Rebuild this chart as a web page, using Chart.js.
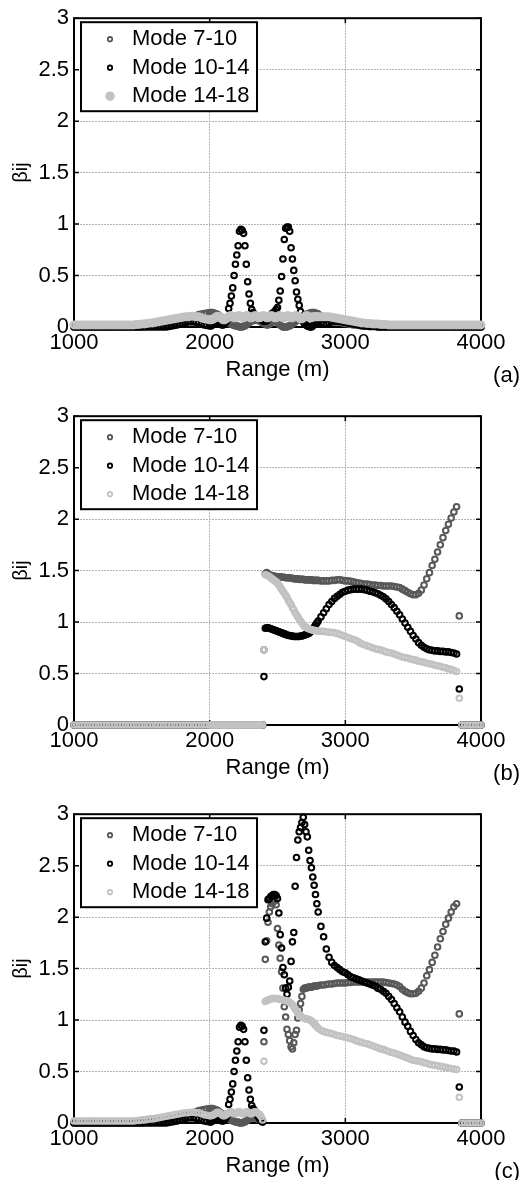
<!DOCTYPE html>
<html lang="en">
<head>
<meta charset="UTF-8">
<title>βij vs Range</title>
<script src="https://cdn.jsdelivr.net/npm/chart.js@4"></script>
<style>
    html, body {
        margin: 0;
        padding: 0;
        background: #fff;
        overflow: hidden;
    }
    .panel {
        position: relative;
        width: 527px;
        height: 398px;
    }
    .panel canvas {
        position: absolute;
        left: 0;
        top: 0;
    }
    .tag {
        position: absolute;
        right: 7px;
        top: 362px;
        font: 22px "Liberation Sans", Arial, sans-serif;
        color: #000;
    }
</style>
</head>
<body>
<div class="panel"><canvas id="chartA" width="527" height="398"></canvas><span class="tag">(a)</span></div>
<div class="panel"><canvas id="chartB" width="527" height="398"></canvas><span class="tag">(b)</span></div>
<div class="panel"><canvas id="chartC" width="527" height="398"></canvas><span class="tag">(c)</span></div>

<script>
// range grid (m): 20 m steps, 10 m steps between 2000 and 2800
const ranges = [
    1000, 1020, 1040, 1060, 1080, 1100, 1120, 1140, 1160, 1180,
    1200, 1220, 1240, 1260, 1280, 1300, 1320, 1340, 1360, 1380,
    1400, 1420, 1440, 1460, 1480, 1500, 1520, 1540, 1560, 1580,
    1600, 1620, 1640, 1660, 1680, 1700, 1720, 1740, 1760, 1780,
    1800, 1820, 1840, 1860, 1880, 1900, 1920, 1940, 1960, 1980,
    2000, 2010, 2020, 2030, 2040, 2050, 2060, 2070, 2080, 2090,
    2100, 2110, 2120, 2130, 2140, 2150, 2160, 2170, 2180, 2190,
    2200, 2210, 2220, 2230, 2240, 2250, 2260, 2270, 2280, 2290,
    2300, 2310, 2320, 2330, 2340, 2350, 2360, 2370, 2380, 2390,
    2400, 2410, 2420, 2430, 2440, 2450, 2460, 2470, 2480, 2490,
    2500, 2510, 2520, 2530, 2540, 2550, 2560, 2570, 2580, 2590,
    2600, 2610, 2620, 2630, 2640, 2650, 2660, 2670, 2680, 2690,
    2700, 2710, 2720, 2730, 2740, 2750, 2760, 2770, 2780, 2790,
    2800, 2820, 2840, 2860, 2880, 2900, 2920, 2940, 2960, 2980,
    3000, 3020, 3040, 3060, 3080, 3100, 3120, 3140, 3160, 3180,
    3200, 3220, 3240, 3260, 3280, 3300, 3320, 3340, 3360, 3380,
    3400, 3420, 3440, 3460, 3480, 3500, 3520, 3540, 3560, 3580,
    3600, 3620, 3640, 3660, 3680, 3700, 3720, 3740, 3760, 3780,
    3800, 3820, 3840, 3860, 3880, 3900, 3920, 3940, 3960, 3980,
    4000
];

const xTicks = [1000, 2000, 3000, 4000];
const yTicks = [0, 0.5, 1, 1.5, 2, 2.5, 3];
const seriesNames = ['Mode 7-10', 'Mode 10-14', 'Mode 14-18'];

// ---- panel (a)
const a710 = [
    0, 0, 0, 0, 0, 0, 0, 0, 0, 0,
    0, 0, 0, 0, 0, 0, 0, 0, 0, 0,
    0, 0, 0, 0, 0, 0, 0.005, 0.005, 0.01, 0.01,
    0.015, 0.02, 0.02, 0.025, 0.03, 0.035, 0.04, 0.045, 0.05, 0.06,
    0.065, 0.075, 0.085, 0.095, 0.1, 0.11, 0.12, 0.125, 0.13, 0.135,
    0.14, 0.14, 0.14, 0.135, 0.13, 0.125, 0.12, 0.11, 0.1, 0.09,
    0.08, 0.07, 0.06, 0.05, 0.04, 0.03, 0.03, 0.02, 0.02, 0.01,
    0.01, 0.01, 0, 0, 0, 0.01, 0.01, 0.02, 0.03, 0.04,
    0.05, 0.06, 0.06, 0.07, 0.07, 0.07, 0.06, 0.06, 0.05, 0.04,
    0.04, 0.03, 0.02, 0.02, 0.03, 0.04, 0.05, 0.06, 0.06, 0.05,
    0.04, 0.03, 0.02, 0.01, 0, 0, 0, 0, 0.01, 0.01,
    0.02, 0.03, 0.04, 0.05, 0.06, 0.07, 0.08, 0.09, 0.1, 0.11,
    0.115, 0.12, 0.125, 0.13, 0.135, 0.14, 0.14, 0.14, 0.135, 0.13,
    0.125, 0.11, 0.1, 0.09, 0.08, 0.07, 0.06, 0.05, 0.045, 0.04,
    0.035, 0.03, 0.025, 0.02, 0.02, 0.015, 0.01, 0.01, 0.01, 0.005,
    0.005, 0.005, 0, 0, 0, 0, 0, 0, 0, 0,
    0, 0, 0, 0, 0, 0, 0, 0, 0, 0,
    0, 0, 0, 0, 0, 0, 0, 0, 0, 0,
    0, 0, 0, 0, 0, 0, 0, 0, 0, 0,
    0
];
const a1014 = [
    0, 0, 0, 0, 0, 0, 0, 0, 0, 0,
    0, 0, 0, 0, 0, 0, 0, 0, 0, 0,
    0, 0, 0, 0, 0, 0, 0, 0, 0, 0,
    0, 0, 0, 0, 0, 0.005, 0.01, 0.015, 0.02, 0.03,
    0.035, 0.04, 0.05, 0.05, 0.05, 0.045, 0.04, 0.03, 0.02, 0.015,
    0.01, 0.01, 0.02, 0.03, 0.04, 0.05, 0.05, 0.04, 0.03, 0.02,
    0.02, 0.03, 0.05, 0.09, 0.18, 0.23, 0.3, 0.38, 0.5, 0.61,
    0.7, 0.79, 0.93, 0.95, 0.94, 0.91, 0.79, 0.61, 0.44, 0.32,
    0.23, 0.17, 0.14, 0.12, 0.11, 0.1, 0.09, 0.08, 0.07, 0.06,
    0.055, 0.055, 0.06, 0.08, 0.1, 0.11, 0.13, 0.14, 0.15, 0.17,
    0.19, 0.26, 0.35, 0.49, 0.66, 0.85, 0.96, 0.97, 0.97, 0.93,
    0.77, 0.66, 0.55, 0.45, 0.34, 0.27, 0.21, 0.15, 0.09, 0.05,
    0.03, 0.02, 0.01, 0.005, 0, 0, 0.01, 0.03, 0.04, 0.05,
    0.05, 0.04, 0.03, 0.03, 0.04, 0.05, 0.05, 0.055, 0.055, 0.05,
    0.045, 0.04, 0.035, 0.03, 0.025, 0.02, 0.015, 0.01, 0.01, 0.005,
    0.005, 0.005, 0, 0, 0, 0, 0, 0, 0, 0,
    0, 0, 0, 0, 0, 0, 0, 0, 0, 0,
    0, 0, 0, 0, 0, 0, 0, 0, 0, 0,
    0, 0, 0, 0, 0, 0, 0, 0, 0, 0,
    0
];
const a1418 = [
    0.02, 0.02, 0.02, 0.02, 0.02, 0.02, 0.02, 0.02, 0.02, 0.02,
    0.02, 0.02, 0.02, 0.02, 0.02, 0.02, 0.02, 0.02, 0.02, 0.02,
    0.02, 0.02, 0.02, 0.025, 0.025, 0.03, 0.03, 0.035, 0.04, 0.04,
    0.045, 0.05, 0.055, 0.06, 0.065, 0.07, 0.075, 0.08, 0.085, 0.09,
    0.095, 0.1, 0.1, 0.105, 0.105, 0.1, 0.1, 0.09, 0.08, 0.075,
    0.07, 0.07, 0.075, 0.08, 0.09, 0.1, 0.105, 0.1, 0.09, 0.08,
    0.07, 0.07, 0.08, 0.09, 0.1, 0.11, 0.11, 0.1, 0.09, 0.09,
    0.1, 0.11, 0.11, 0.1, 0.09, 0.09, 0.1, 0.11, 0.11, 0.1,
    0.09, 0.09, 0.1, 0.11, 0.11, 0.1, 0.09, 0.09, 0.1, 0.11,
    0.11, 0.1, 0.09, 0.09, 0.1, 0.11, 0.11, 0.1, 0.09, 0.09,
    0.1, 0.11, 0.11, 0.1, 0.09, 0.09, 0.1, 0.11, 0.11, 0.1,
    0.09, 0.09, 0.1, 0.11, 0.11, 0.1, 0.09, 0.08, 0.08, 0.09,
    0.1, 0.11, 0.11, 0.1, 0.09, 0.09, 0.1, 0.1, 0.1, 0.1,
    0.1, 0.1, 0.1, 0.1, 0.1, 0.095, 0.09, 0.085, 0.08, 0.075,
    0.07, 0.065, 0.06, 0.055, 0.05, 0.045, 0.04, 0.04, 0.035, 0.035,
    0.03, 0.03, 0.03, 0.025, 0.025, 0.025, 0.02, 0.02, 0.02, 0.02,
    0.02, 0.02, 0.02, 0.02, 0.02, 0.02, 0.02, 0.02, 0.02, 0.02,
    0.02, 0.02, 0.02, 0.02, 0.02, 0.02, 0.02, 0.02, 0.02, 0.02,
    0.02, 0.02, 0.02, 0.02, 0.02, 0.02, 0.02, 0.02, 0.02, 0.02,
    0.02
];

// ---- panel (b)
const b710 = [
    0, 0, 0, 0, 0, 0, 0, 0, 0, 0,
    0, 0, 0, 0, 0, 0, 0, 0, 0, 0,
    0, 0, 0, 0, 0, 0, 0, 0, 0, 0,
    0, 0, 0, 0, 0, 0, 0, 0, 0, 0,
    0, 0, 0, 0, 0, 0, 0, 0, 0, 0,
    0, 0, 0, 0, 0, 0, 0, 0, 0, 0,
    0, 0, 0, 0, 0, 0, 0, 0, 0, 0,
    0, 0, 0, 0, 0, 0, 0, 0, 0, 0,
    0, 0, 0, 0, 0, 0, 0, 0, 0, 0,
    0.73, 1.47, 1.48, 1.47, 1.46, 1.455, 1.45, 1.45, 1.445, 1.44,
    1.44, 1.44, 1.44, 1.435, 1.435, 1.435, 1.43, 1.43, 1.43, 1.43,
    1.425, 1.425, 1.42, 1.42, 1.42, 1.42, 1.415, 1.415, 1.415, 1.415,
    1.41, 1.41, 1.41, 1.41, 1.41, 1.41, 1.405, 1.405, 1.405, 1.405,
    1.405, 1.4, 1.4, 1.4, 1.4, 1.405, 1.405, 1.41, 1.41, 1.405,
    1.4, 1.4, 1.395, 1.39, 1.385, 1.38, 1.375, 1.37, 1.37, 1.365,
    1.36, 1.36, 1.355, 1.355, 1.35, 1.35, 1.35, 1.35, 1.345, 1.34,
    1.335, 1.32, 1.305, 1.29, 1.275, 1.265, 1.265, 1.28, 1.31, 1.36,
    1.42, 1.48, 1.55, 1.61, 1.68, 1.75, 1.82, 1.89, 1.95, 2.01,
    2.07, 2.12, 1.06, 0, 0, 0, 0, 0, 0, 0,
    0
];
const b1014 = [
    0, 0, 0, 0, 0, 0, 0, 0, 0, 0,
    0, 0, 0, 0, 0, 0, 0, 0, 0, 0,
    0, 0, 0, 0, 0, 0, 0, 0, 0, 0,
    0, 0, 0, 0, 0, 0, 0, 0, 0, 0,
    0, 0, 0, 0, 0, 0, 0, 0, 0, 0,
    0, 0, 0, 0, 0, 0, 0, 0, 0, 0,
    0, 0, 0, 0, 0, 0, 0, 0, 0, 0,
    0, 0, 0, 0, 0, 0, 0, 0, 0, 0,
    0, 0, 0, 0, 0, 0, 0, 0, 0, 0,
    0.47, 0.94, 0.945, 0.945, 0.94, 0.935, 0.93, 0.925, 0.92, 0.915,
    0.91, 0.905, 0.9, 0.895, 0.89, 0.885, 0.88, 0.875, 0.87, 0.87,
    0.865, 0.865, 0.86, 0.86, 0.86, 0.86, 0.86, 0.865, 0.865, 0.87,
    0.875, 0.88, 0.885, 0.89, 0.9, 0.915, 0.93, 0.95, 0.97, 0.99,
    1.01, 1.05, 1.09, 1.13, 1.17, 1.2, 1.23, 1.25, 1.27, 1.29,
    1.3, 1.31, 1.315, 1.32, 1.32, 1.32, 1.32, 1.315, 1.31, 1.3,
    1.295, 1.285, 1.275, 1.26, 1.245, 1.225, 1.2, 1.17, 1.14, 1.105,
    1.07, 1.03, 0.99, 0.95, 0.91, 0.87, 0.835, 0.8, 0.775, 0.755,
    0.74, 0.73, 0.725, 0.72, 0.72, 0.715, 0.715, 0.71, 0.71, 0.705,
    0.7, 0.69, 0.35, 0, 0, 0, 0, 0, 0, 0,
    0
];
const b1418 = [
    0, 0, 0, 0, 0, 0, 0, 0, 0, 0,
    0, 0, 0, 0, 0, 0, 0, 0, 0, 0,
    0, 0, 0, 0, 0, 0, 0, 0, 0, 0,
    0, 0, 0, 0, 0, 0, 0, 0, 0, 0,
    0, 0, 0, 0, 0, 0, 0, 0, 0, 0,
    0, 0, 0, 0, 0, 0, 0, 0, 0, 0,
    0, 0, 0, 0, 0, 0, 0, 0, 0, 0,
    0, 0, 0, 0, 0, 0, 0, 0, 0, 0,
    0, 0, 0, 0, 0, 0, 0, 0, 0, 0,
    0.73, 1.46, 1.455, 1.45, 1.44, 1.43, 1.42, 1.41, 1.4, 1.39,
    1.38, 1.36, 1.34, 1.32, 1.3, 1.28, 1.26, 1.24, 1.21, 1.19,
    1.17, 1.14, 1.12, 1.09, 1.07, 1.05, 1.03, 1.01, 0.99, 0.97,
    0.96, 0.95, 0.94, 0.935, 0.93, 0.925, 0.92, 0.92, 0.915, 0.915,
    0.91, 0.91, 0.91, 0.905, 0.9, 0.9, 0.895, 0.89, 0.88, 0.87,
    0.86, 0.85, 0.84, 0.83, 0.82, 0.805, 0.79, 0.78, 0.77, 0.76,
    0.75, 0.74, 0.735, 0.73, 0.72, 0.71, 0.705, 0.7, 0.69, 0.68,
    0.67, 0.66, 0.655, 0.65, 0.64, 0.635, 0.63, 0.62, 0.615, 0.61,
    0.6, 0.595, 0.59, 0.58, 0.575, 0.57, 0.56, 0.555, 0.545, 0.54,
    0.53, 0.52, 0.26, 0, 0, 0, 0, 0, 0, 0,
    0
];

// ---- panel (c)
const c710 = [
    0, 0, 0, 0, 0, 0, 0, 0, 0, 0,
    0, 0, 0, 0, 0, 0, 0, 0, 0, 0,
    0, 0, 0, 0, 0, 0, 0.005, 0.005, 0.01, 0.01,
    0.015, 0.02, 0.02, 0.025, 0.03, 0.035, 0.04, 0.045, 0.05, 0.06,
    0.065, 0.075, 0.085, 0.095, 0.1, 0.11, 0.12, 0.125, 0.13, 0.135,
    0.14, 0.14, 0.14, 0.135, 0.13, 0.125, 0.12, 0.11, 0.1, 0.09,
    0.08, 0.07, 0.06, 0.05, 0.04, 0.03, 0.03, 0.02, 0.02, 0.01,
    0.01, 0.01, 0, 0, 0, 0.01, 0.01, 0.02, 0.03, 0.04,
    0.05, 0.05, 0.05, 0.05, 0.05, 0.04, 0.04, 0.03, 0.02, 0.01,
    0.79, 1.59, 1.77, 1.95, 2.05, 2.1, 2.13, 2.15, 2.16, 2.12,
    1.89, 1.73, 1.6, 1.47, 1.31, 1.13, 1.03, 0.91, 0.86, 0.8,
    0.74, 0.72, 0.78, 0.86, 0.9, 1.02, 1.1, 1.16, 1.23, 1.3,
    1.31, 1.31, 1.315, 1.32, 1.32, 1.32, 1.325, 1.33, 1.33, 1.33,
    1.335, 1.34, 1.34, 1.345, 1.35, 1.35, 1.355, 1.36, 1.36, 1.36,
    1.36, 1.365, 1.365, 1.37, 1.37, 1.37, 1.37, 1.37, 1.37, 1.37,
    1.37, 1.37, 1.37, 1.37, 1.37, 1.365, 1.36, 1.355, 1.35, 1.34,
    1.325, 1.3, 1.28, 1.265, 1.255, 1.255, 1.26, 1.28, 1.31, 1.36,
    1.43, 1.49, 1.56, 1.63, 1.71, 1.79, 1.86, 1.93, 1.99, 2.05,
    2.1, 2.13, 1.06, 0, 0, 0, 0, 0, 0, 0,
    0
];
const c1014 = [
    0, 0, 0, 0, 0, 0, 0, 0, 0, 0,
    0, 0, 0, 0, 0, 0, 0, 0, 0, 0,
    0, 0, 0, 0, 0, 0, 0, 0, 0, 0,
    0, 0, 0, 0, 0, 0.005, 0.01, 0.015, 0.02, 0.03,
    0.035, 0.04, 0.05, 0.05, 0.05, 0.045, 0.04, 0.03, 0.02, 0.015,
    0.01, 0.01, 0.02, 0.03, 0.04, 0.05, 0.05, 0.04, 0.03, 0.02,
    0.02, 0.03, 0.05, 0.09, 0.18, 0.23, 0.3, 0.38, 0.5, 0.61,
    0.7, 0.79, 0.93, 0.95, 0.94, 0.91, 0.79, 0.61, 0.44, 0.32,
    0.23, 0.17, 0.14, 0.12, 0.1, 0.08, 0.06, 0.04, 0.02, 0.01,
    0.9, 1.76, 1.99, 2.17, 2.18, 2.2, 2.21, 2.22, 2.22, 2.21,
    2.18, 2.04, 1.83, 1.7, 1.51, 1.44, 1.31, 1.25, 1.32, 1.38,
    1.57, 1.76, 1.85, 2.3, 2.58, 2.75, 2.83, 2.87, 2.92, 2.97,
    2.9, 2.83, 2.78, 2.65, 2.55, 2.48, 2.39, 2.31, 2.22, 2.13,
    2.05, 1.91, 1.81, 1.69, 1.61, 1.56, 1.53, 1.51, 1.49, 1.47,
    1.46, 1.44, 1.42, 1.41, 1.4, 1.39, 1.38, 1.37, 1.36, 1.35,
    1.34, 1.33, 1.31, 1.3, 1.28, 1.26, 1.23, 1.2, 1.16, 1.12,
    1.08, 1.03, 0.98, 0.94, 0.89, 0.85, 0.81, 0.78, 0.76, 0.74,
    0.73, 0.725, 0.72, 0.72, 0.715, 0.715, 0.71, 0.71, 0.705, 0.7,
    0.7, 0.69, 0.35, 0, 0, 0, 0, 0, 0, 0,
    0
];
const c1418 = [
    0.02, 0.02, 0.02, 0.02, 0.02, 0.02, 0.02, 0.02, 0.02, 0.02,
    0.02, 0.02, 0.02, 0.02, 0.02, 0.02, 0.02, 0.02, 0.02, 0.02,
    0.02, 0.02, 0.02, 0.025, 0.025, 0.03, 0.03, 0.035, 0.04, 0.04,
    0.045, 0.05, 0.055, 0.06, 0.065, 0.07, 0.075, 0.08, 0.085, 0.09,
    0.095, 0.1, 0.1, 0.105, 0.105, 0.1, 0.1, 0.09, 0.08, 0.075,
    0.07, 0.07, 0.075, 0.08, 0.09, 0.1, 0.105, 0.1, 0.09, 0.08,
    0.07, 0.07, 0.08, 0.09, 0.1, 0.11, 0.11, 0.1, 0.09, 0.09,
    0.1, 0.11, 0.11, 0.1, 0.09, 0.09, 0.1, 0.11, 0.11, 0.1,
    0.09, 0.09, 0.1, 0.11, 0.11, 0.1, 0.09, 0.08, 0.06, 0.03,
    0.6, 1.18, 1.19, 1.195, 1.2, 1.205, 1.21, 1.21, 1.21, 1.21,
    1.21, 1.205, 1.2, 1.2, 1.195, 1.19, 1.19, 1.185, 1.18, 1.17,
    1.16, 1.15, 1.13, 1.11, 1.09, 1.07, 1.05, 1.04, 1.03, 1.02,
    1.015, 1.01, 1.01, 1.005, 1, 0.99, 0.98, 0.965, 0.95, 0.935,
    0.92, 0.9, 0.89, 0.88, 0.875, 0.87, 0.86, 0.85, 0.845, 0.84,
    0.83, 0.825, 0.82, 0.81, 0.8, 0.79, 0.785, 0.775, 0.77, 0.76,
    0.75, 0.74, 0.73, 0.72, 0.715, 0.705, 0.695, 0.685, 0.68, 0.67,
    0.66, 0.65, 0.64, 0.63, 0.62, 0.61, 0.605, 0.6, 0.595, 0.585,
    0.58, 0.57, 0.565, 0.56, 0.555, 0.55, 0.545, 0.54, 0.535, 0.53,
    0.525, 0.52, 0.25, 0, 0, 0, 0, 0, 0, 0,
    0
];

const FONT = '"Liberation Sans", Arial, Helvetica, sans-serif';
const seriesColors = ['#585858', '#000000', '#c2c2c2'];

// black axes box with inward ticks on all four sides
const frameBox = {
    id: 'frameBox',
    beforeDatasetsDraw(chart) {
        const { ctx, chartArea: a, scales } = chart;
        ctx.save();
        ctx.strokeStyle = '#000';
        ctx.lineWidth = 2;
        ctx.strokeRect(a.left, a.top, a.right - a.left, a.bottom - a.top);
        ctx.lineWidth = 1.5;
        ctx.beginPath();
        scales.x.ticks.forEach(t => {
            const px = scales.x.getPixelForValue(t.value);
            ctx.moveTo(px, a.bottom); ctx.lineTo(px, a.bottom - 5);
            ctx.moveTo(px, a.top); ctx.lineTo(px, a.top + 5);
        });
        scales.y.ticks.forEach(t => {
            const py = scales.y.getPixelForValue(t.value);
            ctx.moveTo(a.left, py); ctx.lineTo(a.left + 5, py);
            ctx.moveTo(a.right, py); ctx.lineTo(a.right - 5, py);
        });
        ctx.stroke();
        ctx.restore();
    }
};

// boxed legend in the upper-left corner of the axes
const boxLegend = {
    id: 'boxLegend',
    afterDatasetsDraw(chart, args, opts) {
        const { ctx, chartArea: a } = chart;
        const x0 = a.left + 7, y0 = a.top + 4, w = 176, h = 89;
        ctx.save();
        ctx.fillStyle = '#fff';
        ctx.fillRect(x0, y0, w, h);
        ctx.strokeStyle = '#000';
        ctx.lineWidth = 2;
        ctx.strokeRect(x0, y0, w, h);
        ctx.font = '22px ' + FONT;
        ctx.textBaseline = 'middle';
        chart.data.datasets.forEach((d, i) => {
            const cy = y0 + 17 + i * 28.5;
            const big = opts.bigLast && i === 2;
            ctx.beginPath();
            ctx.arc(x0 + 29, cy, big ? 3.5 : 2.2, 0, Math.PI * 2);
            ctx.lineWidth = big ? 2.5 : 1.8;
            ctx.strokeStyle = d.borderColor;
            if (big) { ctx.fillStyle = d.borderColor; ctx.fill(); }
            ctx.stroke();
            ctx.fillStyle = '#000';
            ctx.fillText(d.label, x0 + 51, cy);
        });
        ctx.restore();
    }
};

function makePanel(id, series, bigLast) {
    const datasets = series.map((ys, i) => {
        const big = bigLast && i === 2;
        return {
            label: seriesNames[i],
            data: ranges.map((x, k) => ({ x: x, y: ys[k] })),
            borderColor: seriesColors[i],
            backgroundColor: 'rgba(0,0,0,0)',
            pointRadius: big ? 3.2 : 2.8,
            pointBorderWidth: big ? 2.6 : 2,
            showLine: false,
            clip: false,
            order: 3 - i
        };
    });

    new Chart(document.getElementById(id), {
        type: 'scatter',
        data: { datasets: datasets },
        options: {
            responsive: false,
            animation: false,
            events: [],
            layout: { padding: { top: 15, right: 46, left: 0, bottom: 0 } },
            plugins: {
                legend: { display: false },
                tooltip: { enabled: false },
                boxLegend: { bigLast: bigLast }
            },
            scales: {
                x: {
                    type: 'linear',
                    min: 1000,
                    max: 4000,
                    afterBuildTicks: s => { s.ticks = xTicks.map(v => ({ value: v })); },
                    afterFit: s => { s.height = 71; },
                    grid: { color: '#b4b4b4', lineWidth: 1, drawTicks: false },
                    border: { display: false, dash: [2, 1] },
                    ticks: {
                        color: '#000',
                        padding: 3,
                        maxRotation: 0,
                        font: { family: FONT, size: 22 },
                        callback: v => String(v)
                    },
                    title: {
                        display: true,
                        text: 'Range (m)',
                        color: '#000',
                        font: { family: FONT, size: 22 },
                        padding: { top: 0, bottom: 15 }
                    }
                },
                y: {
                    type: 'linear',
                    min: 0,
                    max: 3,
                    afterBuildTicks: s => { s.ticks = yTicks.map(v => ({ value: v })); },
                    afterFit: s => { s.width = 74; },
                    grid: { color: '#b4b4b4', lineWidth: 1, drawTicks: false },
                    border: { display: false, dash: [2, 1] },
                    ticks: {
                        color: '#000',
                        padding: 5,
                        font: { family: FONT, size: 22 },
                        callback: v => String(v)
                    },
                    title: {
                        display: true,
                        text: 'βij',
                        color: '#000',
                        font: { family: FONT, size: 20 },
                        padding: { top: 9, bottom: 0 }
                    }
                }
            }
        },
        plugins: [frameBox, boxLegend]
    });
}

makePanel('chartA', [a710, a1014, a1418], true);
makePanel('chartB', [b710, b1014, b1418], false);
makePanel('chartC', [c710, c1014, c1418], false);
</script>
</body>
</html>
